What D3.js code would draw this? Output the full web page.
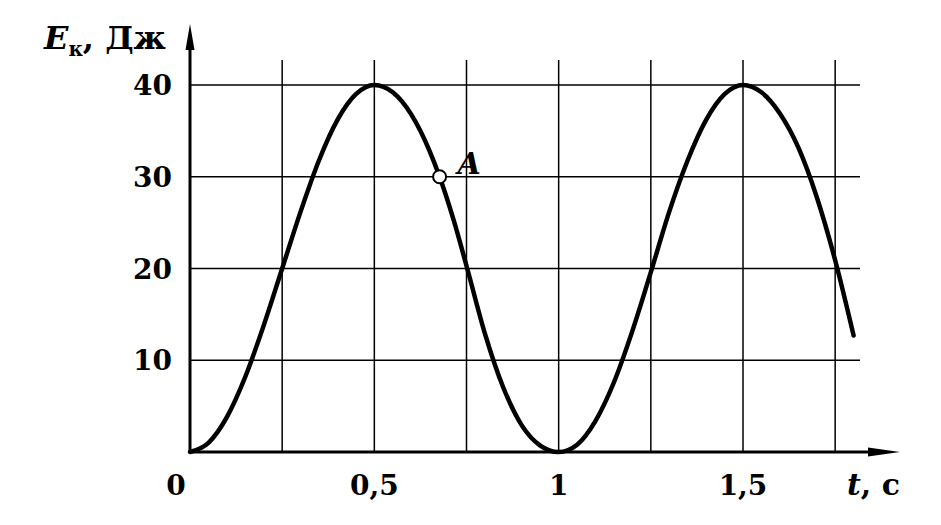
<!DOCTYPE html>
<html>
<head>
<meta charset="utf-8">
<script src="https://cdn.jsdelivr.net/npm/d3@7"></script>
<style>
  html, body { margin: 0; padding: 0; background: #fff; }
  svg { display: block; }
  text { font-family: "DejaVu Serif", "Liberation Serif", serif; font-weight: bold; fill: #000; }
</style>
</head>
<body>
<svg id="chart" width="941" height="525"></svg>
<script>
// ---- data ----
const tValues = [0, 0.05, 0.1, 0.15, 0.2, 0.25, 0.3, 0.35, 0.4, 0.45, 0.5, 0.55, 0.6, 0.65, 0.677, 0.715, 0.752, 0.8, 0.85, 0.9, 0.95, 1,
                 1.05, 1.1, 1.15, 1.2, 1.25, 1.3, 1.35, 1.4, 1.45, 1.5, 1.55, 1.6, 1.65, 1.7, 1.75, 1.8];
const eValues = [0, 1.0, 3.8, 8.2, 13.8, 20, 26.2, 31.8, 36.2, 39.0, 40, 39.2, 36.8, 32.8, 30, 25.3, 20, 12.9, 7.0, 2.9, 0.7, 0,
                 0.8, 3.4, 7.6, 13.2, 19.6, 26.2, 31.8, 36.2, 39.0, 40, 39.2, 36.9, 33.2, 27.8, 20.9, 12.7];
const pointA = { t: 0.677, e: 30, label: "A" };
const xTickValues = [0, 0.5, 1, 1.5];
const xTickLabels = ["0", "0,5", "1", "1,5"];
const xGridValues = [0.25, 0.5, 0.75, 1, 1.25, 1.5, 1.75];
const yTickValues = [10, 20, 30, 40];
const yTickLabels = ["10", "20", "30", "40"];
const yAxisTitle = ["E", "к", ", Дж"];
const xAxisTitle = ["t", ", c"];

// ---- layout ----
const svg = d3.select("#chart");
const x = d3.scaleLinear().domain([0, 1.5]).range([190, 743]);
const y = d3.scaleLinear().domain([0, 40]).range([452, 85]);

const gridRight = 860, gridTop = 60;

// grid
const grid = svg.append("g").attr("stroke", "#000").attr("stroke-width", 1.5);
grid.selectAll("line.h").data(yTickValues).join("line")
  .attr("x1", x(0)).attr("x2", gridRight)
  .attr("y1", d => y(d)).attr("y2", d => y(d));
grid.selectAll("line.v").data(xGridValues).join("line")
  .attr("x1", d => x(d)).attr("x2", d => x(d))
  .attr("y1", gridTop).attr("y2", y(0));

// axes
const axes = svg.append("g");
axes.append("line").attr("x1", x(0)).attr("x2", x(0)).attr("y1", y(0) + 1).attr("y2", 45)
  .attr("stroke", "#000").attr("stroke-width", 3);
axes.append("line").attr("x1", x(0) - 1).attr("x2", 875).attr("y1", y(0)).attr("y2", y(0))
  .attr("stroke", "#000").attr("stroke-width", 3);
// arrow heads
axes.append("path").attr("d", `M${x(0)},24 L${x(0) - 4.5},50 L${x(0) + 4.5},50 Z`).attr("fill", "#000");
axes.append("path").attr("d", `M900,${y(0)} L868,${y(0) - 4.5} L868,${y(0) + 4.5} Z`).attr("fill", "#000");

// y tick labels
svg.append("g").selectAll("text").data(yTickValues).join("text")
  .attr("x", 172).attr("y", d => y(d))
  .attr("dy", "0.36em")
  .attr("text-anchor", "end")
  .attr("font-size", 28)
  .text((d, i) => yTickLabels[i]);

// x tick labels
svg.append("g").selectAll("text").data(xTickValues).join("text")
  .attr("x", d => d === 0 ? x(d) - 14 : x(d))
  .attr("y", 495)
  .attr("text-anchor", "middle")
  .attr("font-size", 28)
  .text((d, i) => xTickLabels[i]);

// y axis title
const yt = svg.append("text").attr("x", 44).attr("y", 49).attr("font-size", 32);
yt.append("tspan").attr("font-style", "italic").text(yAxisTitle[0]);
yt.append("tspan").attr("font-size", 20).attr("dy", 7).text(yAxisTitle[1]);
yt.append("tspan").attr("dy", -7).text(yAxisTitle[2]);

// x axis title
const xt = svg.append("text").attr("x", 847).attr("y", 495).attr("font-size", 30);
xt.append("tspan").attr("font-style", "italic").text(xAxisTitle[0]);
xt.append("tspan").text(xAxisTitle[1]);

// curve
const data = tValues.map((t, i) => ({ t, e: eValues[i] }));
const line = d3.line().x(d => x(d.t)).y(d => y(d.e)).curve(d3.curveMonotoneX);
svg.append("path").datum(data)
  .attr("d", line)
  .attr("fill", "none").attr("stroke", "#000").attr("stroke-width", 4.5)
  .attr("stroke-linecap", "round").attr("stroke-linejoin", "round");

// point A
svg.append("circle").attr("cx", x(pointA.t)).attr("cy", y(pointA.e)).attr("r", 6.5)
  .attr("fill", "#fff").attr("stroke", "#000").attr("stroke-width", 2);
svg.append("text").attr("x", x(pointA.t) + 18).attr("y", y(pointA.e) - 3)
  .attr("font-size", 30).attr("font-style", "italic").text(pointA.label);
</script>
</body>
</html>
